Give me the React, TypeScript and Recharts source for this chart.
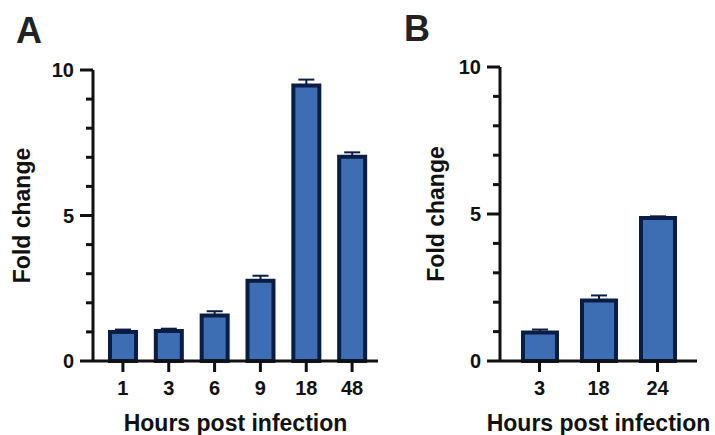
import React from "react";
import { BarChart, Bar, XAxis, YAxis, ErrorBar } from "recharts";

// panel A: 1-48 h
const hoursA = ["1", "3", "6", "9", "18", "48"];
const foldA = [1.0, 1.03, 1.56, 2.76, 9.47, 7.02];
const semA = [0.08, 0.08, 0.15, 0.17, 0.2, 0.15];

// panel B: 3-24 h
const hoursB = ["3", "18", "24"];
const foldB = [0.97, 2.06, 4.86];
const semB = [0.1, 0.17, 0.06];

const yTicks = [0, 1, 2, 3, 4, 5, 6, 7, 8, 9, 10];

const FONT = "'Liberation Sans', Arial, Helvetica, sans-serif";
const INK = "#111";
const FILL = "#3D6DB3";
const EDGE = "#0A1D44";

const dataA = hoursA.map((h, i) => ({ h, v: foldA[i], e: [0, semA[i]] }));
const dataB = hoursB.map((h, i) => ({ h, v: foldB[i], e: [0, semB[i]] }));

const YTick = (props: any) => {
  const { y, payload, axisX } = props;
  const major = payload.value % 5 === 0;
  const len = major ? 13 : 7;
  return (
    <g>
      <line x1={axisX - len} x2={axisX} y1={y} y2={y} stroke={INK} strokeWidth={3} />
      {major && (
        <text
          x={axisX - 19}
          y={y}
          dy="0.36em"
          textAnchor="end"
          fontFamily={FONT}
          fontSize={20}
          fontWeight={700}
          fill={INK}
        >
          {payload.value}
        </text>
      )}
    </g>
  );
};

type PanelProps = {
  data: any[];
  width: number;
  top: number;
  right: number;
  yWidth: number;
  barSize: number;
  pad: { left: number; right: number };
  yLabelX: number;
};

const Panel = ({ data, width, top, right, yWidth, barSize, pad, yLabelX }: PanelProps) => (
  <BarChart
    width={width}
    height={435}
    data={data}
    margin={{ top, right, bottom: 0, left: 0 }}
    barCategoryGap={0}
  >
    <Bar
      dataKey="v"
      fill={FILL}
      stroke={EDGE}
      strokeWidth={4}
      barSize={barSize}
      isAnimationActive={false}
    >
      <ErrorBar
        dataKey="e"
        direction="y"
        width={8}
        stroke={EDGE}
        strokeWidth={2}
        isAnimationActive={false}
      />
    </Bar>
    <XAxis
      dataKey="h"
      height={74}
      padding={pad}
      axisLine={{ stroke: INK, strokeWidth: 3 }}
      tickLine={{ stroke: INK, strokeWidth: 3 }}
      tickSize={11}
      tickMargin={9}
      tick={{ fill: INK, fontSize: 20, fontWeight: 700, fontFamily: FONT }}
      interval={0}
      label={{
        value: "Hours post infection",
        position: "insideBottom",
        offset: 4,
        fill: INK,
        fontSize: 23,
        fontWeight: 700,
        fontFamily: FONT,
      }}
    />
    <YAxis
      width={yWidth}
      domain={[0, 10]}
      ticks={yTicks}
      interval={0}
      axisLine={{ stroke: INK, strokeWidth: 3 }}
      tickLine={false}
      tick={<YTick axisX={yWidth} />}
      label={{
        value: "Fold change",
        angle: -90,
        position: "insideLeft",
        offset: yLabelX,
        style: { textAnchor: "middle" },
        fill: INK,
        fontSize: 23,
        fontWeight: 700,
        fontFamily: FONT,
      }}
    />
  </BarChart>
);

const letterStyle: React.CSSProperties = {
  position: "absolute",
  fontFamily: FONT,
  fontWeight: 700,
  fontSize: 36,
  lineHeight: "36px",
  color: "#222",
};

export default function App() {
  return (
    <div
      style={{
        position: "absolute",
        left: 0,
        top: 0,
        width: 715,
        height: 435,
        background: "#fff",
        overflow: "hidden",
      }}
    >
      <div style={{ position: "absolute", left: 0, top: 0 }}>
        <Panel
          data={dataA}
          width={390}
          top={70}
          right={12}
          yWidth={93}
          barSize={26}
          pad={{ left: 7, right: 3 }}
          yLabelX={22}
        />
      </div>
      <div style={{ position: "absolute", left: 400, top: 0 }}>
        <Panel
          data={dataB}
          width={315}
          top={67}
          right={18}
          yWidth={100}
          barSize={34}
          pad={{ left: 10, right: 10 }}
          yLabelX={36}
        />
      </div>
      <div style={{ ...letterStyle, left: 16, top: 13 }}>A</div>
      <div style={{ ...letterStyle, left: 404, top: 11 }}>B</div>
    </div>
  );
}
